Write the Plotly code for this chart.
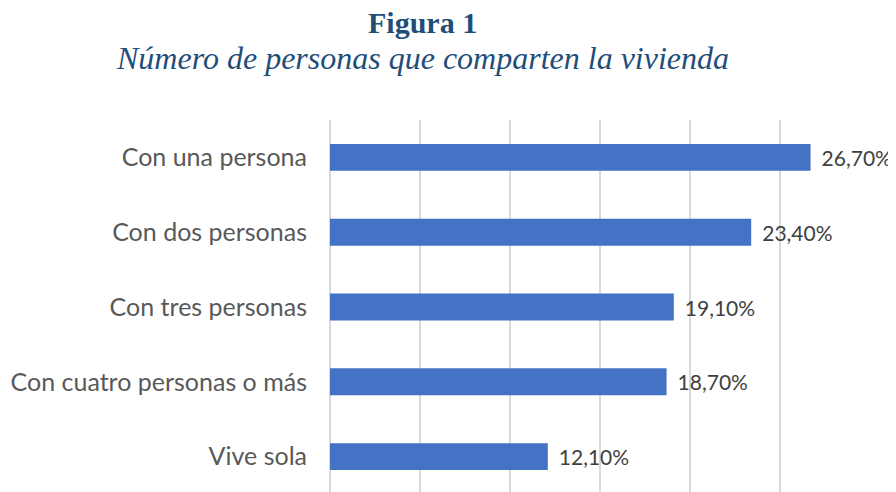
import plotly.graph_objects as go

categories = ["Con una persona", "Con dos personas", "Con tres personas",
              "Con cuatro personas o más", "Vive sola"]
values = [26.7, 23.4, 19.1, 18.7, 12.1]

title_text = "Figura 1"
subtitle_text = "Número de personas que comparten la vivienda"

fig = go.Figure(go.Bar(
    x=values, y=categories, orientation="h",
    marker=dict(color="#4472C4", line=dict(width=0)),
    texttemplate=" \u2009%{x:.2f}%", textposition="outside",
    textfont=dict(family="Lato", size=21, color="#404040"),
    cliponaxis=False, constraintext="none",
))

# page body has an 8px margin; figure is sized/offset to compensate
fig.update_layout(
    width=888, height=486,
    margin=dict(l=322, r=26, t=112, b=0),
    paper_bgcolor="white", plot_bgcolor="white",
    separators=",.",
    bargap=0.64,
    showlegend=False,
    xaxis=dict(range=[0, 30], dtick=5, showticklabels=False,
               showgrid=True, gridcolor="#D9D9D9", gridwidth=1.5,
               zeroline=True, zerolinecolor="#D9D9D9", zerolinewidth=1.5,
               showline=False, ticks="", fixedrange=True),
    yaxis=dict(autorange="reversed", showgrid=False, showline=False,
               ticks="", ticklabelstandoff=22,
               tickfont=dict(family="Lato", size=25, color="#595959")),
    annotations=[
        dict(text="<b>" + title_text + "</b>", xref="paper", yref="paper",
             x=(422 - 330) / 540, y=1 + (120 - 22) / 374,
             xanchor="center", yanchor="middle", showarrow=False,
             font=dict(family="Liberation Serif", size=30, color="#1F4E79")),
        dict(text="<i>" + subtitle_text + "</i>", xref="paper", yref="paper",
             x=(422 - 330) / 540, y=1 + (120 - 58) / 374,
             xanchor="center", yanchor="middle", showarrow=False,
             font=dict(family="Liberation Serif", size=32, color="#1F4E79")),
    ],
)

fig.write_html("out.html")
